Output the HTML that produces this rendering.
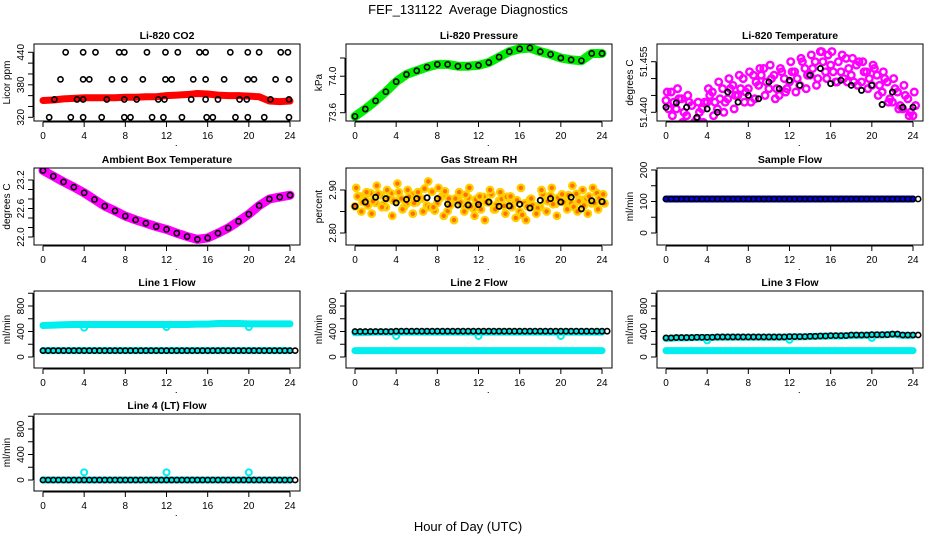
<!DOCTYPE html>
<html><head><meta charset="utf-8">
<style>
html,body{margin:0;padding:0;background:#fff;}
svg{display:block;font-family:"Liberation Sans",sans-serif;}
</style></head>
<body>
<svg id="chart" width="936" height="540" viewBox="0 0 936 540" xmlns="http://www.w3.org/2000/svg">
<text x="468" y="14" font-size="13" text-anchor="middle">FEF_131122&#160; Average Diagnostics</text>
<text x="468" y="531" font-size="13" text-anchor="middle">Hour of Day (UTC)</text>
</svg>
<script>
// ---- data ----
const hrs = [0,1,2,3,4,5,6,7,8,9,10,11,12,13,14,15,16,17,18,19,20,21,22,23,24];
const halfHrs = [0,0.5,1,1.5,2,2.5,3,3.5,4,4.5,5,5.5,6,6.5,7,7.5,8,8.5,9,9.5,10,10.5,11,11.5,12,12.5,13,13.5,14,14.5,15,15.5,16,16.5,17,17.5,18,18.5,19,19.5,20,20.5,21,21.5,22,22.5,23,23.5,24];
const xTicks = [0,4,8,12,16,20,24];

const co2Band = [351,352,354,355,356,356,356,356,357,357,358,358,360,361,362,364,363,361,360,360,359,358,350,349,350];
const co2PtHours = [2.2,3.9,5.1,7.4,7.9,10.1,11.9,13.1,15.2,15.8,18.2,19.9,21.0,23.1,23.8,
 1.7,3.9,4.5,6.7,7.9,9.7,11.9,12.5,14.6,15.8,17.6,19.9,20.5,22.6,23.9,
 1.1,3.3,3.9,6.2,7.9,9.1,11.2,11.8,14.4,15.8,17.0,19.1,19.8,22.1,23.9,
 0.6,2.7,3.9,5.7,7.9,8.5,10.6,11.7,13.5,15.9,16.5,18.7,19.9,21.5,23.9];
const co2PtVals = [440,440,440,440,440,440,440,440,440,440,440,440,440,440,440,
 390,390,390,390,390,390,390,390,390,390,390,390,390,390,390,
 353,353,353,353,353,353,353,353,353,353,353,353,353,353,353,
 320,320,320,320,320,320,320,320,320,320,320,320,320,320,320];

const pressure = [73.56,73.64,73.73,73.83,73.94,74.02,74.06,74.10,74.13,74.13,74.11,74.11,74.12,74.15,74.21,74.27,74.30,74.31,74.27,74.24,74.20,74.18,74.17,74.25,74.25];

const tempA = [51.4435,51.446,51.441,51.444,51.439,51.442,51.438,51.441,51.443,51.446,51.441,51.447,51.444,51.448,51.445,51.450,51.447,51.451,51.448,51.453,51.447,51.451,51.445,51.450,51.449,51.452,51.448,51.453,51.451,51.455,51.458,51.452,51.454,51.449,51.452,51.456,51.451,51.454,51.449,51.452,51.448,51.451,51.446,51.449,51.443,51.446,51.441,51.444,51.439];
const tempB = [51.441,51.443,51.444,51.440,51.443,51.437,51.440,51.443,51.445,51.443,51.444,51.443,51.447,51.445,51.447,51.446,51.443,51.449,51.451,51.449,51.450,51.447,51.452,51.447,51.452,51.450,51.455,51.451,51.453,51.450,51.455,51.457,51.452,51.455,51.450,51.453,51.449,51.455,51.452,51.450,51.453,51.448,51.450,51.444,51.447,51.442,51.445,51.440,51.442];
const tempC = [51.446,51.439,51.447,51.437,51.445,51.436,51.443,51.437,51.447,51.439,51.449,51.440,51.450,51.441,51.451,51.443,51.452,51.444,51.453,51.445,51.454,51.444,51.453,51.446,51.455,51.446,51.456,51.447,51.457,51.448,51.458,51.450,51.458,51.449,51.457,51.449,51.456,51.448,51.455,51.447,51.454,51.445,51.452,51.443,51.450,51.441,51.448,51.439,51.446];
const tempBlack = [51.4415,51.4428,51.4415,51.4385,51.441,51.440,51.446,51.443,51.445,51.444,51.449,51.447,51.4495,51.448,51.451,51.453,51.4485,51.4495,51.448,51.4465,51.448,51.4423,51.446,51.4415,51.4415];

const ambient = [23.40,23.28,23.16,23.05,22.93,22.79,22.65,22.55,22.44,22.36,22.29,22.22,22.16,22.08,22.01,21.95,21.98,22.08,22.19,22.33,22.48,22.66,22.80,22.84,22.88];

const rhA = [2.862,2.885,2.878,2.893,2.870,2.888,2.860,2.892,2.875,2.880,2.868,2.889,2.872,2.880,2.864,2.896,2.870,2.887,2.851,2.873,2.880,2.866,2.882,2.857,2.868,2.884,2.871,2.855,2.875,2.863,2.880,2.870,2.850,2.869,2.878,2.862,2.860,2.876,2.887,2.868,2.884,2.872,2.869,2.891,2.877,2.880,2.869,2.893,2.873];
const rhB = [2.885,2.872,2.864,2.874,2.891,2.866,2.881,2.875,2.895,2.860,2.884,2.870,2.882,2.903,2.860,2.852,2.881,2.897,2.864,2.880,2.871,2.889,2.862,2.878,2.855,2.872,2.890,2.865,2.879,2.884,2.860,2.876,2.842,2.862,2.865,2.858,2.890,2.874,2.867,2.882,2.872,2.888,2.861,2.874,2.864,2.885,2.870,2.881,2.869];
const rhC = [2.905,2.850,2.895,2.845,2.910,2.860,2.900,2.840,2.915,2.855,2.900,2.845,2.895,2.850,2.920,2.860,2.905,2.840,2.880,2.830,2.895,2.850,2.905,2.840,2.885,2.830,2.900,2.855,2.895,2.845,2.885,2.835,2.905,2.830,2.880,2.845,2.900,2.850,2.905,2.840,2.890,2.855,2.910,2.850,2.900,2.845,2.905,2.855,2.890];
const rhBlack = [2.862,2.872,2.883,2.880,2.870,2.878,2.880,2.882,2.880,2.867,2.865,2.865,2.866,2.872,2.862,2.863,2.867,2.858,2.876,2.880,2.872,2.883,2.856,2.875,2.873];

const sampleFlow = [108,108,108,108,108,108,108,108,108,108,108,108,108,108,108,108,108,108,108,108,108,108,108,108,108];
const line1High = [495,500,505,510,510,510,510,510,510,510,510,510,510,510,510,515,515,525,525,525,520,520,520,520,520];
const line1Low = [100,100,100,100,100,100,100,100,100,100,100,100,100,100,100,100,100,100,100,100,100,100,100,100,100];
const line2High = [380,385,390,390,390,390,390,390,390,390,390,390,390,390,390,390,390,390,390,390,390,390,390,390,390];
const line2Low = [100,100,100,100,100,100,100,100,100,100,100,100,100,100,100,100,100,100,100,100,100,100,100,100,100];
const line2Black = [400,400,400,400,405,405,405,405,405,405,405,405,405,405,405,405,405,405,405,405,405,405,405,405,405];
const line3High = [290,300,300,305,305,310,310,310,310,310,310,310,315,315,320,325,330,330,340,340,345,345,355,340,340];
const line3Low = [100,100,100,100,100,100,100,100,100,100,100,100,100,100,100,100,100,100,100,100,100,100,100,100,100];
const line3Black = [300,305,305,310,310,315,315,315,315,315,315,315,320,320,325,330,335,335,345,345,350,350,360,345,345];
const line4Cyan = [0,0,0,0,0,0,0,0,0,0,0,0,0,0,0,0,0,0,0,0,0,0,0,0,0];
const line4Black = [0,0,0,0,0,0,0,0,0,0,0,0,0,0,0,0,0,0,0,0,0,0,0,0,0];
const dipHours = [4,12,20];
const line1Dips = [460,470,470];
const line2Dips = [330,330,330];
const line3Dips = [260,270,300];
const line4Spikes = [120,120,120];

// ---- drawing ----
const svg = document.getElementById('chart');
const NS = 'http://www.w3.org/2000/svg';
const colLeft = [34,346,657], rowTop = [44,168,291,414];
const BW = 266, BH = 77;
function mk(tag, attrs, parent){const e=document.createElementNS(NS,tag);for(const k in attrs)e.setAttribute(k,attrs[k]);(parent||svg).appendChild(e);return e;}

function panel(o){
  const L=colLeft[o.col], T=rowTop[o.row];
  const g=mk('g',{});
  
  
  const xs=h=>L+9+h*247/24;
  const ys=v=>T+o.y1+(v-o.v1)*(o.y2-o.y1)/(o.v2-o.v1);
  const clip='clip-'+o.name;
  const cp=mk('clipPath',{id:clip},g); mk('rect',{x:L,y:T,width:BW,height:BH},cp);
  const plot=mk('g',{'clip-path':'url(#'+clip+')'},g);
  
  
  o.draw(plot,xs,ys);
  const box=mk('rect',{x:L,y:T,width:BW,height:BH,fill:'none',stroke:'#000','stroke-width':1},g);
  
  
  const t=mk('text',{x:L+BW/2,y:T-5,'font-size':10.5,'font-weight':'bold','text-anchor':'middle'},g);
  t.textContent=o.title;
  
  
  const xa=mk('g',{},g);
  
  
  mk('line',{x1:xs(0),x2:xs(24),y1:T+BH+1,y2:T+BH+1,stroke:'#000'},xa);
  xTicks.forEach(h=>{
    mk('line',{x1:xs(h),x2:xs(h),y1:T+BH+1,y2:T+BH+6,stroke:'#000'},xa);
    const tl=mk('text',{x:xs(h),y:T+BH+18,'font-size':10,'text-anchor':'middle'},xa);
    tl.textContent=h;
    
    
  });
  mk('rect',{x:xs(12.9),y:T+BH+24,width:1,height:1,fill:'#000'},xa);
  const ya=mk('g',{},g);
  
  
  const tk=o.ticks;
  mk('line',{x1:L-1,x2:L-1,y1:ys(tk[0]),y2:ys(tk[tk.length-1]),stroke:'#000'},ya);
  tk.forEach(v=>mk('line',{x1:L-6,x2:L-1,y1:ys(v),y2:ys(v),stroke:'#000'},ya));
  o.labels.forEach((lab,i)=>{
    const y=ys(o.labelVals[i]);
    const tl=mk('text',{x:L-10,y:y,'font-size':10,'text-anchor':'middle',transform:'rotate(-90 '+(L-10)+' '+y+')'},ya);
    tl.textContent=lab;
    
    
  });
  const yl=mk('text',{x:L-24,y:T+BH/2,'font-size':10,'text-anchor':'middle',transform:'rotate(-90 '+(L-24)+' '+(T+BH/2)+')'},ya);
  yl.textContent=o.ylab;
  
  
}
function band(p,xs,ys,xsArr,vals,color,w,name){
  const pl=mk('polyline',{points:xsArr.map((h,i)=>xs(h)+','+ys(vals[i])).join(' '),fill:'none',stroke:color,'stroke-width':w,'stroke-linejoin':'round','stroke-linecap':'round'},p);
  
  
}
function pts(p,xs,ys,xsArr,vals,color,r,sw,name,fill){
  const g=mk('g',{},p);
  
  
  xsArr.forEach((h,i)=>{
    const c=mk('circle',{cx:xs(h),cy:ys(vals[i]),r:r,fill:fill||'none',stroke:color,'stroke-width':sw},g);
    
    
  });
}
const flowTicks=[0,200,400,600,800,1000];
const flowCfg={v1:0,y1:66,v2:800,y2:15,ticks:flowTicks,labels:['0','400','800'],labelVals:[0,400,800],ylab:'ml/min'};

panel({name:'co2',col:0,row:0,title:'Li-820 CO2',ylab:'Licor ppm',v1:320,y1:73.3,v2:440,y2:8.3,ticks:[320,340,360,380,400,420,440],labels:['320','380','440'],labelVals:[320,380,440],
  draw:(p,xs,ys)=>{band(p,xs,ys,hrs,co2Band,'#ff0000',7,'co2-series');pts(p,xs,ys,co2PtHours,co2PtVals,'#000',2.6,1.6,'co2-average');}});
panel({name:'pressure',col:1,row:0,title:'Li-820 Pressure',ylab:'kPa',v1:73.6,y1:68.7,v2:74.2,y2:14,ticks:[73.6,73.8,74.0,74.2],labels:['73.6','74.0'],labelVals:[73.6,74.0],
  draw:(p,xs,ys)=>{band(p,xs,ys,hrs,pressure,'#00ee00',9,'pressure-series');pts(p,xs,ys,hrs,pressure,'#000',2.6,1.6,'pressure-average');}});
panel({name:'temperature',col:2,row:0,title:'Li-820 Temperature',ylab:'degrees C',v1:51.440,y1:68.3,v2:51.455,y2:17.7,ticks:[51.440,51.445,51.450,51.455],labels:['51.440','51.455'],labelVals:[51.440,51.455],
  draw:(p,xs,ys)=>{pts(p,xs,ys,halfHrs,tempA,'#ff00ff',3.3,2.4,'temperature-series-a');pts(p,xs,ys,halfHrs.map(h=>h+0.25),tempB,'#ff00ff',3.3,2.4,'temperature-series-b');pts(p,xs,ys,halfHrs.map(h=>h+0.12),tempC,'#ff00ff',3.3,2.4,'temperature-series-c');pts(p,xs,ys,hrs,tempBlack,'#000',2.6,1.8,'temperature-average');}});
panel({name:'ambient',col:0,row:1,title:'Ambient Box Temperature',ylab:'degrees C',v1:22.0,y1:69,v2:23.2,y2:12,ticks:[22.0,22.2,22.4,22.6,22.8,23.0,23.2],labels:['22.0','22.6','23.2'],labelVals:[22.0,22.6,23.2],
  draw:(p,xs,ys)=>{band(p,xs,ys,hrs,ambient,'#ff00ff',9,'ambient-series');pts(p,xs,ys,hrs,ambient,'#000',2.6,1.6,'ambient-average');}});
panel({name:'rh',col:1,row:1,title:'Gas Stream RH',ylab:'percent',v1:2.80,y1:65,v2:2.90,y2:22,ticks:[2.80,2.85,2.90],labels:['2.80','2.90'],labelVals:[2.80,2.90],
  draw:(p,xs,ys)=>{pts(p,xs,ys,halfHrs,rhA,'#ffd000',3.3,2.2,'rh-series-a','#ff7000');pts(p,xs,ys,halfHrs.map(h=>h+0.25),rhB,'#ffd000',3.3,2.2,'rh-series-b','#ff7000');pts(p,xs,ys,halfHrs.map(h=>h+0.12),rhC,'#ffd000',3.3,2.2,'rh-series-c','#ff7000');pts(p,xs,ys,hrs,rhBlack,'#000',2.6,1.8,'rh-average');}});
panel({name:'sample-flow',col:2,row:1,title:'Sample Flow',ylab:'ml/min',v1:0,y1:65,v2:200,y2:2,ticks:[0,50,100,150,200],labels:['0','100','200'],labelVals:[0,100,200],
  draw:(p,xs,ys)=>{band(p,xs,ys,hrs,sampleFlow,'#0000ee',7,'sample-flow-series');pts(p,xs,ys,hrs,sampleFlow,'#000',2.6,1.6,'sample-flow-average');pts(p,xs,ys,hrs.map(h=>h+0.5),sampleFlow,'#000',2.6,1.6,'sample-flow-average-2');}});
panel(Object.assign({name:'line1',col:0,row:2,title:'Line 1 Flow',
  draw:(p,xs,ys)=>{band(p,xs,ys,hrs,line1High,'#00eeee',7,'line1-high');band(p,xs,ys,hrs,line1Low,'#00eeee',7,'line1-low');pts(p,xs,ys,dipHours,line1Dips,'#00eeee',3,2,'line1-dips');pts(p,xs,ys,hrs,line1Low,'#000',2.6,1.6,'line1-average');pts(p,xs,ys,hrs.map(h=>h+0.5),line1Low,'#000',2.6,1.6,'line1-average-2');}},flowCfg));
panel(Object.assign({name:'line2',col:1,row:2,title:'Line 2 Flow',
  draw:(p,xs,ys)=>{band(p,xs,ys,hrs,line2High,'#00eeee',7,'line2-high');band(p,xs,ys,hrs,line2Low,'#00eeee',7,'line2-low');pts(p,xs,ys,dipHours,line2Dips,'#00eeee',3,2,'line2-dips');pts(p,xs,ys,hrs,line2Black,'#000',2.6,1.6,'line2-average');pts(p,xs,ys,hrs.map(h=>h+0.5),line2Black,'#000',2.6,1.6,'line2-average-2');}},flowCfg));
panel(Object.assign({name:'line3',col:2,row:2,title:'Line 3 Flow',
  draw:(p,xs,ys)=>{band(p,xs,ys,hrs,line3High,'#00eeee',7,'line3-high');band(p,xs,ys,hrs,line3Low,'#00eeee',7,'line3-low');pts(p,xs,ys,dipHours,line3Dips,'#00eeee',3,2,'line3-dips');pts(p,xs,ys,hrs,line3Black,'#000',2.6,1.6,'line3-average');pts(p,xs,ys,hrs.map(h=>h+0.5),line3Black,'#000',2.6,1.6,'line3-average-2');}},flowCfg));
panel(Object.assign({name:'line4',col:0,row:3,title:'Line 4 (LT) Flow',
  draw:(p,xs,ys)=>{band(p,xs,ys,hrs,line4Cyan,'#00eeee',7,'line4-series');pts(p,xs,ys,dipHours,line4Spikes,'#00eeee',3,2,'line4-spikes');pts(p,xs,ys,hrs,line4Black,'#000',2.6,1.6,'line4-average');pts(p,xs,ys,hrs.map(h=>h+0.5),line4Black,'#000',2.6,1.6,'line4-average-2');}},flowCfg));
</script>
</body></html>
